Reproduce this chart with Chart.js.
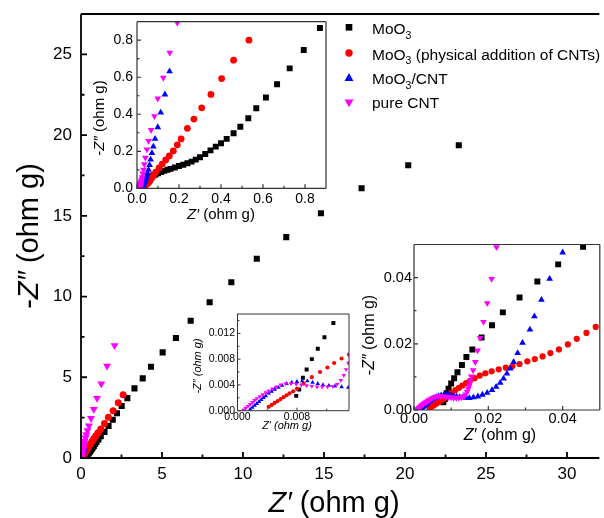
<!DOCTYPE html>
<html>
<head>
<meta charset="utf-8">
<script src="https://cdn.jsdelivr.net/npm/chart.js@4.4.1/dist/chart.umd.min.js"></script>
<style>
  html, body { margin: 0; padding: 0; background: #fff; }
  #wrap { position: relative; width: 604px; height: 518px; overflow: hidden; }
  #wrap canvas { position: absolute; left: 0; top: 0; width: 604px; height: 518px; }
</style>
</head>
<body>
<div id="wrap">
  <canvas id="main" width="604" height="518"></canvas>
  <canvas id="ins1" width="604" height="518"></canvas>
  <canvas id="ins2" width="604" height="518"></canvas>
  <canvas id="ins3" width="604" height="518"></canvas>
</div>
<script>
// [Z', -Z''] in ohm g (main plot + the three zoomed insets)
var moo3 = [
  [0.0079,0.0023],[0.0083,0.0033],[0.0088,0.0051],[0.0093,0.0064],[0.0100,0.0080],[0.0108,0.0096],
  [0.0117,0.0114],[0.0129,0.0136],[0.0141,0.0160],[0.0157,0.0183],[0.0182,0.0219],[0.0210,0.0256],
  [0.0239,0.0295],[0.0284,0.0340],[0.0332,0.0388],[0.0388,0.0440],[0.0455,0.0493],
  [0.053,0.054],[0.062,0.060],[0.070,0.065],[0.078,0.070],[0.088,0.075],[0.100,0.081],[0.115,0.088],
  [0.130,0.094],[0.145,0.100],[0.160,0.105],[0.180,0.112],[0.200,0.120],[0.220,0.127],[0.240,0.135],
  [0.260,0.144],[0.280,0.155],[0.300,0.168],[0.325,0.185],[0.350,0.205],[0.375,0.225],[0.400,0.243],
  [0.427,0.267],[0.460,0.297],[0.492,0.333],[0.530,0.378],[0.568,0.432],[0.614,0.491],[0.667,0.562],
  [0.727,0.648],[0.794,0.747],[0.871,0.866],
  [0.96,0.99],[1.08,1.15],[1.22,1.35],[1.45,1.62],[1.70,1.98],[1.96,2.37],[2.22,2.77],[2.51,3.22],
  [2.86,3.71],[3.30,4.31],[3.81,4.93],[4.32,5.65],[5.04,6.54],[5.86,7.43],[6.77,8.50],[7.94,9.65],
  [9.28,10.89],[10.85,12.34],[12.67,13.68],[14.81,15.16],[17.32,16.71],[20.20,18.13],[23.32,19.37]
];
var moo3Mixed = [
  [0.0042,0.0006],[0.0046,0.0009],[0.0050,0.0012],[0.0054,0.0015],[0.0058,0.0018],[0.0062,0.0021],
  [0.0066,0.0024],[0.0070,0.0027],[0.0075,0.0030],[0.0080,0.0034],[0.0089,0.0042],[0.0100,0.0052],
  [0.0111,0.0060],[0.0121,0.0067],[0.0130,0.0074],[0.0140,0.0081],[0.0150,0.0087],[0.0163,0.0096],
  [0.0177,0.0104],[0.0192,0.0111],[0.0209,0.0117],[0.0228,0.0123],[0.0247,0.0128],[0.0265,0.0133],
  [0.0284,0.0139],[0.0305,0.0147],[0.0325,0.0154],[0.0346,0.0162],[0.0367,0.0172],[0.0390,0.0183],
  [0.0414,0.0198],[0.0438,0.0215],[0.0464,0.0233],[0.0489,0.0251],
  [0.055,0.030],[0.062,0.041],[0.070,0.055],[0.078,0.069],[0.089,0.087],[0.105,0.110],[0.120,0.131],
  [0.137,0.153],[0.154,0.175],[0.173,0.202],[0.192,0.235],[0.210,0.267],[0.240,0.324],[0.271,0.374],
  [0.308,0.435],[0.352,0.507],[0.403,0.593],[0.460,0.692],[0.533,0.800],
  [0.61,0.92],[0.70,1.06],[0.80,1.21],[0.92,1.38],[1.05,1.57],[1.22,1.80],[1.45,2.14],[1.69,2.52],
  [1.98,2.93],[2.30,3.42],[2.60,3.92]
];
var moo3Cnt = [
  [0.0017,0.0002],[0.0020,0.0005],[0.0023,0.0008],[0.0026,0.0011],[0.0029,0.0014],[0.0032,0.0017],
  [0.0035,0.0020],[0.0038,0.0023],[0.0042,0.0027],[0.0046,0.0030],[0.0050,0.0033],[0.0055,0.0036],
  [0.0060,0.0039],[0.0066,0.0042],[0.0073,0.0044],[0.0080,0.0045],[0.0087,0.0046],[0.0094,0.0046],
  [0.0101,0.0044],[0.0108,0.0042],[0.0115,0.0040],[0.0123,0.0039],[0.0131,0.0038],[0.0140,0.0037],
  [0.0149,0.0036],[0.0160,0.0038],[0.0172,0.0041],[0.0184,0.0046],[0.0197,0.0052],[0.0210,0.0060],
  [0.0221,0.0070],[0.0232,0.0082],[0.0241,0.0095],[0.0250,0.0110],[0.0259,0.0125],[0.0268,0.0145],
  [0.0279,0.0172],[0.0292,0.0203],[0.0312,0.0243],[0.0324,0.0283],[0.0343,0.0333],[0.0365,0.0396],
  [0.0400,0.0476],
  [0.0425,0.055],[0.046,0.067],[0.050,0.082],[0.055,0.100],[0.060,0.125],[0.065,0.155],[0.071,0.190],
  [0.078,0.225],[0.086,0.267],[0.099,0.330],[0.113,0.409],[0.133,0.507],[0.155,0.632]
];
var pureCnt = [
  [0.0008,0.0001],[0.0011,0.0004],[0.0014,0.0007],[0.0017,0.0010],[0.0020,0.0013],[0.0023,0.0016],
  [0.0026,0.0019],[0.0030,0.0022],[0.0034,0.0025],[0.0038,0.0028],[0.0042,0.0031],[0.0047,0.0034],
  [0.0052,0.0037],[0.0058,0.0040],[0.0065,0.0042],[0.0072,0.0042],[0.0079,0.0041],[0.0086,0.0040],
  [0.0093,0.0039],[0.0100,0.0038],[0.0107,0.0037],[0.0114,0.0037],[0.0121,0.0037],[0.0128,0.0038],
  [0.0134,0.0041],[0.0139,0.0047],[0.0143,0.0055],[0.0146,0.0064],[0.0149,0.0074],[0.0151,0.0087],
  [0.0154,0.0101],[0.0159,0.0120],[0.0165,0.0145],[0.0171,0.0180],[0.0178,0.0218],[0.0187,0.0266],
  [0.0197,0.0323],[0.0209,0.0396],[0.0222,0.0492],
  [0.024,0.060],[0.027,0.080],[0.031,0.100],[0.035,0.130],[0.040,0.165],[0.047,0.210],[0.055,0.256],
  [0.067,0.315],[0.083,0.390],[0.099,0.485],[0.125,0.597],[0.156,0.733],[0.192,0.894],
  [0.23,1.05],[0.28,1.25],[0.33,1.45],[0.40,1.70],[0.49,2.00],[0.62,2.46],[0.79,3.02],[0.99,3.70],
  [1.25,4.60],[1.61,5.70],[2.07,6.97]
];

var seriesNames = ['MoO3', 'MoO3 (physical addition of CNTs)', 'MoO3/CNT', 'pure CNT'];
var seriesColors = ['#000000', '#ff0000', '#0000ff', '#ff00ff'];

// tick values for each plot
var mainXTicks = [0, 5, 10, 15, 20, 25, 30];
var mainXMinor = [2.5, 7.5, 12.5, 17.5, 22.5, 27.5];
var mainYTicks = [0, 5, 10, 15, 20, 25];
var mainYMinor = [2.5, 7.5, 12.5, 17.5, 22.5];
var ins1Ticks = [0, 0.2, 0.4, 0.6, 0.8];
var ins1Minor = [0.1, 0.3, 0.5, 0.7];
var ins2XTicks = [0, 0.008];
var ins2XMinor = [0.004, 0.012];
var ins2YTicks = [0, 0.004, 0.008, 0.012];
var ins2YMinor = [0.002, 0.006, 0.010, 0.014];
var ins3Ticks = [0, 0.02, 0.04];
var ins3Minor = [0.01, 0.03];

var W = 604, H = 518;
var FAM = '"Liberation Sans", Arial, sans-serif';
var styles = [
  { pointStyle: 'rect', rot: 0, legend: 'rect' },
  { pointStyle: 'circle', rot: 0, legend: 'circle' },
  { pointStyle: 'triangle', rot: 0, legend: 'up' },
  { pointStyle: 'triangle', rot: 180, legend: 'down' }
];
var allData = [moo3, moo3Mixed, moo3Cnt, pureCnt];

function richFont(p, size, italicAll) {
  var s = p.sub ? size * 0.68 : size;
  return ((italicAll || p.i) ? 'italic ' : '') + s + 'px ' + FAM;
}
function drawRich(ctx, parts, size, x, y, rot, italicAll, left) {
  ctx.save();
  var w = 0;
  var ws = parts.map(function (p) {
    ctx.font = richFont(p, size, italicAll);
    var m = ctx.measureText(p.t).width; w += m; return m;
  });
  ctx.translate(x, y);
  if (rot) ctx.rotate(-Math.PI / 2);
  var cx = left ? 0 : -w / 2;
  ctx.fillStyle = '#000';
  ctx.textBaseline = 'alphabetic';
  ctx.textAlign = 'left';
  parts.forEach(function (p, k) {
    ctx.font = richFont(p, size, italicAll);
    ctx.fillText(p.t, cx, p.sub ? size * 0.32 : 0);
    cx += ws[k];
  });
  ctx.restore();
}
function marker(ctx, kind, x, y, r, color) {
  ctx.fillStyle = color;
  ctx.beginPath();
  if (kind === 'rect') {
    var s = r * Math.SQRT1_2; ctx.rect(x - s, y - s, 2 * s, 2 * s);
  } else if (kind === 'circle') {
    ctx.arc(x, y, r, 0, Math.PI * 2);
  } else {
    var d = kind === 'down' ? -1 : 1;
    ctx.moveTo(x, y - d * r);
    ctx.lineTo(x + 0.866 * r, y + d * 0.5 * r);
    ctx.lineTo(x - 0.866 * r, y + d * 0.5 * r);
    ctx.closePath();
  }
  ctx.fill();
}
function nameParts(name) {
  if (name.indexOf('MoO3') === 0) return [{ t: 'MoO' }, { t: '3', sub: true }, { t: name.slice(4) }];
  return [{ t: name }];
}

var xTitle = [{ t: 'Z\u2032', i: true }, { t: ' (ohm g)' }];
var yTitle = [{ t: '-' }, { t: 'Z\u2033', i: true }, { t: ' (ohm g)' }];

var deco = {
  id: 'deco',
  beforeDatasetsDraw: function (chart, args, o) {
    if (!o.fill) return;
    var a = chart.chartArea, ctx = chart.ctx;
    ctx.save();
    ctx.fillStyle = '#fff';
    ctx.fillRect(a.left, a.top, a.right - a.left, a.bottom - a.top);
    ctx.restore();
  },
  afterDatasetsDraw: function (chart, args, o) {
    var a = chart.chartArea, ctx = chart.ctx;
    var xs = chart.scales.x, ys = chart.scales.y;
    ctx.save();
    ctx.strokeStyle = o.color;
    ctx.lineWidth = o.lw;
    ctx.beginPath();
    ctx.moveTo(a.left, a.top); ctx.lineTo(a.left, a.bottom); ctx.lineTo(a.right, a.bottom);
    ctx.moveTo(a.left, a.top); ctx.lineTo(a.right, a.top);
    if (o.box) { ctx.moveTo(a.right, a.top); ctx.lineTo(a.right, a.bottom); }
    ctx.stroke();
    ctx.beginPath();
    function xt(vals, len) { vals.forEach(function (v) { var p = xs.getPixelForValue(v); ctx.moveTo(p, a.bottom); ctx.lineTo(p, a.bottom - len); }); }
    function yt(vals, len) { vals.forEach(function (v) { var p = ys.getPixelForValue(v); ctx.moveTo(a.left, p); ctx.lineTo(a.left + len, p); }); }
    xt(o.xt, o.tick[0]); xt(o.xm, o.tick[1]);
    yt(o.yt, o.tick[0]); yt(o.ym, o.tick[1]);
    ctx.stroke();
    ctx.restore();
    drawRich(ctx, xTitle, o.tsize, o.xTitlePos[0], o.xTitlePos[1], false, o.italicAll);
    drawRich(ctx, yTitle, o.tsize, o.yTitlePos[0], o.yTitlePos[1], true, o.italicAll);
    if (o.legend) {
      var rowsM = [27.3, 53, 78.3, 102];
      var rowsT = [34.3, 59.5, 83.8, 108];
      var lr = [4.7, 3.7, 5.2, 5.2];
      seriesNames.forEach(function (n, k) {
        marker(ctx, styles[k].legend, 349, rowsM[k], lr[k], seriesColors[k]);
        drawRich(ctx, nameParts(n), 15.5, 372, rowsT[k], false, false, true);
      });
    }
  }
};

function axis(p, which) {
  var isX = which === 'x';
  var major = isX ? p.xt : p.yt;
  return {
    type: 'linear',
    min: isX ? p.x[0] : p.y[0],
    max: isX ? p.x[1] : p.y[1],
    afterBuildTicks: function (s) { s.ticks = major.map(function (v) { return { value: v }; }); },
    afterFit: function (s) {
      // the scale box fills the whole margin so its labels are not clipped
      if (isX) s.height = H - p.area[3]; else s.width = p.area[0];
      s.paddingTop = s.paddingBottom = s.paddingLeft = s.paddingRight = 0;
    },
    grid: { display: false, drawTicks: false },
    border: { display: false },
    ticks: {
      autoSkip: false, maxRotation: 0, minRotation: 0,
      padding: isX ? p.padX : p.padY,
      color: '#000',
      font: { family: FAM, size: p.font },
      callback: function (v) { return Number(v).toFixed(p.dec); }
    }
  };
}

function makeChart(id, p) {
  var datasets = allData.map(function (d, k) {
    return {
      label: seriesNames[k],
      data: d.map(function (q) { return { x: q[0], y: q[1] }; }),
      showLine: false,
      pointStyle: styles[k].pointStyle,
      pointRotation: styles[k].rot,
      pointRadius: p.r[k],
      pointHoverRadius: p.r[k],
      pointBackgroundColor: seriesColors[k],
      backgroundColor: seriesColors[k],
      pointBorderWidth: 0,
      borderWidth: 0,
      order: 3 - k,
      clip: 0
    };
  });
  return new Chart(document.getElementById(id), {
    type: 'scatter',
    data: { datasets: datasets },
    options: {
      responsive: false,
      animation: false,
      events: [],
      layout: { padding: { left: 0, top: p.area[1], right: W - p.area[2], bottom: 0 } },
      scales: { x: axis(p, 'x'), y: axis(p, 'y') },
      plugins: {
        legend: { display: false },
        tooltip: { enabled: false },
        deco: {
          fill: p.fill, box: p.box, color: p.color, lw: p.lw, tick: p.tick,
          xt: p.xt, xm: p.xm, yt: p.yt, ym: p.ym,
          tsize: p.tsize, xTitlePos: p.xTitlePos, yTitlePos: p.yTitlePos,
          italicAll: p.italicAll, legend: p.legend
        }
      }
    },
    plugins: [deco]
  });
}

makeChart('main', {
  area: [81, 14, 604, 458], x: [0, 32], y: [0, 27.5],
  xt: mainXTicks, xm: mainXMinor, yt: mainYTicks, ym: mainYMinor,
  dec: 0, font: 17, padX: 6, padY: 9, tick: [6, 3.5], lw: 1.8, color: '#000',
  r: [4.3, 3.5, 4.6, 4.6], fill: false, box: false,
  tsize: 29, xTitlePos: [334, 512], yTitlePos: [38, 236], italicAll: false, legend: true
});
makeChart('ins1', {
  area: [137, 21.7, 326, 188.3], x: [0, 0.9], y: [0, 0.9],
  xt: ins1Ticks, xm: ins1Minor, yt: ins1Ticks, ym: ins1Minor,
  dec: 1, font: 14, padX: 2, padY: 4, tick: [4, 2.5], lw: 1.2, color: '#333',
  r: [4.2, 3.4, 3.9, 3.9], fill: true, box: true,
  tsize: 15, xTitlePos: [221, 219], yTitlePos: [104, 118], italicAll: false, legend: false
});
makeChart('ins2', {
  area: [237.5, 314, 349, 410.7], x: [0, 0.015], y: [0, 0.015],
  xt: ins2XTicks, xm: ins2XMinor, yt: ins2YTicks, ym: ins2YMinor,
  dec: 3, font: 10.5, padX: 0, padY: 2.5, tick: [3, 2], lw: 1, color: '#333',
  r: [2.8, 2.1, 2.6, 2.6], fill: true, box: true,
  tsize: 11, xTitlePos: [287, 429], yTitlePos: [200.5, 366], italicAll: true, legend: false
});
makeChart('ins3', {
  area: [414, 244.5, 603, 410], x: [0, 0.05], y: [0, 0.05],
  xt: ins3Ticks, xm: ins3Minor, yt: ins3Ticks, ym: ins3Minor,
  dec: 2, font: 14.5, padX: 0, padY: 2, tick: [4, 2.5], lw: 1.2, color: '#333',
  r: [4.2, 3.1, 3.9, 3.9], fill: true, box: true,
  tsize: 16, xTitlePos: [500, 440], yTitlePos: [374, 335], italicAll: false, legend: false
});
</script>
</body>
</html>
